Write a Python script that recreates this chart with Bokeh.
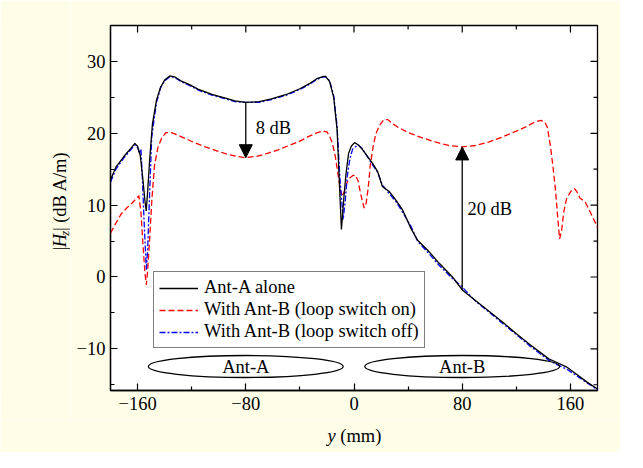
import numpy as np
from bokeh.plotting import figure
from bokeh.layouts import row, column
from bokeh.models import (FixedTicker, Arrow, NormalHead, Label, Legend, LegendItem)
from bokeh.embed import file_html
from bokeh.resources import INLINE

# ---------------- data ----------------
# Ant-A alone
y_alone = [-180, -176, -170, -165, -162, -160, -158, -156, -154.5, -153.6, -152.5, -151,
           -149, -146, -143, -140, -136, -132, -128, -122, -115, -105, -97, -88, -80,
           -70, -61, -50, -40, -33, -27.5, -23, -21, -18, -15, -12.5, -11, -9.3, -7.5,
           -6, -4, -2, 0.4, 3, 6, 10, 13.7, 17.4, 21, 26, 31, 36, 42, 47, 55.6, 63,
           72.8, 80, 90, 100, 110, 120, 130, 144, 150, 157, 165, 172, 180]
hz_alone = [13.5, 15.3, 16.8, 17.9, 18.6, 18.2, 16.9, 13.5, 10.5, 9.2, 12.0, 16.5,
            21.3, 24.6, 26.4, 27.4, 28.0, 27.8, 27.3, 26.8, 26.1, 25.4, 25.0, 24.5, 24.3,
            24.4, 24.8, 25.4, 26.2, 26.9, 27.6, 27.9, 27.9, 27.2, 25.0, 20.5, 14.0, 6.6, 11.0,
            14.2, 17.2, 18.2, 18.7, 18.4, 17.8, 16.8, 15.8, 14.7, 12.6, 11.9, 10.7, 9.3, 6.8, 5.1, 3.5, 1.9,
            0.0, -1.8, -3.3, -4.8, -6.3, -7.9, -9.4, -11.4, -11.9, -12.5, -13.6, -14.6, -15.6]

# With Ant-B (loop switch on)
y_on = [-180, -176, -172, -168, -164, -161, -159, -157.5, -156, -154.5, -153.5, -152.5,
        -151, -149.5, -147.5, -145, -142, -139, -135, -131, -125, -118, -110, -102, -94,
        -87, -80, -72, -64, -56, -48, -40, -33, -27, -23, -20, -18, -16, -14, -12, -10,
        -8.6, -7, -5, -3, -1, 1, 3, 5, 7.5, 9, 10.5, 12, 14, 16, 18.5, 22, 25, 28, 32,
        40, 50, 60, 70, 80, 90, 100, 110, 120, 127, 133, 138, 141, 143, 145, 147, 149,
        150.5, 152, 153.5, 155, 157, 159, 161, 163, 165, 167, 169, 171, 174, 177, 180]
hz_on = [6.1, 7.5, 8.8, 9.6, 10.3, 10.9, 11.3, 9.0, 4.5, 0.5, -1.1, 1.0,
         5.5, 10.5, 15.5, 18.0, 19.4, 20.1, 20.1, 19.8, 19.3, 18.7, 18.1, 17.6, 17.1,
         16.8, 16.6, 16.8, 17.2, 17.7, 18.3, 18.9, 19.6, 20.1, 20.3, 20.2, 19.6, 18.6, 17.0, 14.5, 12.0,
         11.2, 12.0, 13.2, 13.8, 14.1, 14.2, 13.4, 11.5, 9.6, 10.3, 12.4, 15.5, 18.0, 19.8, 21.0, 21.9, 21.9, 21.4, 20.9,
         20.1, 19.4, 18.8, 18.3, 18.1, 18.3, 18.8, 19.5, 20.3, 20.9, 21.5, 21.8, 21.6, 20.8, 18.5, 15.5, 12.0,
         8.5, 5.3, 6.5, 9.0, 10.8, 11.5, 12.1, 12.3, 11.8, 11.0, 10.7, 10.4, 9.3, 8.1, 6.9]

# With Ant-B (loop switch off)
y_off = [-180, -176, -170, -165, -162, -160, -158.5, -157.5, -156.5, -155, -153.5, -152.5,
         -151, -149.5, -146, -143, -140, -136, -132, -128, -122, -115, -105, -97, -88, -80,
         -70, -61, -50, -40, -33, -27.5, -23, -21, -18, -15, -12.5, -10.5, -8, -6.5, -5,
         -3, -1, 3, 6, 10, 13.7, 17.4, 21, 26, 31, 36, 42, 47, 55.6, 63, 72.8, 80, 90,
         100, 110, 120, 130, 144, 150, 157, 165, 172, 180]
hz_off = [13.2, 15.0, 16.6, 17.7, 18.4, 18.0, 17.2, 17.8, 14.0, 7.0, 1.0, 4.0,
          12.0, 19.5, 24.3, 26.3, 27.3, 27.9, 27.7, 27.2, 26.7, 26.0, 25.3, 24.9, 24.4, 24.3,
          24.3, 24.7, 25.3, 26.1, 26.8, 27.5, 27.8, 27.9, 27.3, 25.2, 21.0, 14.0, 8.0, 10.5, 14.0,
          16.5, 17.8, 18.4, 17.9, 16.7, 15.6, 14.6, 12.8, 11.6, 10.5, 9.0, 7.1, 5.0, 3.2, 1.6, -0.2, -1.4, -3.4,
          -4.9, -6.5, -8.0, -9.6, -11.6, -12.2, -12.8, -13.8, -14.7, -15.7]

x_ticks = [-160, -80, 0, 80, 160]
x_minor = [-120, -40, 40, 120]
y_ticks = [-10, 0, 10, 20, 30]
y_minor = [-15, -5, 5, 15, 25]

series_labels = ["Ant-A alone", "With Ant-B (loop switch on)", "With Ant-B (loop switch off)"]
ant_names = ["Ant-A", "Ant-B"]
ant_center = [-80, 80]
ant_length = 144
arrow_at = [-80, 80]
arrow_texts = ["8 dB", "20 dB"]

# ---------------- layout constants (page pixels) ----------------
BG = "#fefde8"
FONT = "Liberation Serif"
FS = "18.5px"
X0, X1, Y0, Y1 = -180, 180, -15.8, 35
LW = 70                     # width of the y-title strip
PW, PH = 550, 420           # main figure
XH = 32                     # height of the x-title strip
ML, MR, MT, MB = 40, 23, 25, 30
fw, fh = PW - ML - MR, PH - MT - MB
sx = fw / (X1 - X0)
sy = fh / (Y1 - Y0)
PAGE_TOP = 8
FRAME_TOP = PAGE_TOP + MT


def dy(py):  # page pixel y -> data y of the main plot
    return Y1 - (py - FRAME_TOP) / sy


p = figure(width=PW, height=PH, x_range=(X0, X1), y_range=(Y0, Y1),
           output_backend="svg", toolbar_location=None,
           min_border_left=ML, min_border_right=MR, min_border_top=MT, min_border_bottom=MB,
           background_fill_color="white", border_fill_color=BG)
p.grid.visible = False
p.outline_line_color = "black"
p.outline_line_width = 1.3

for ax, ticks, minor in ((p.xaxis[0], x_ticks, x_minor), (p.yaxis[0], y_ticks, y_minor)):
    ax.ticker = FixedTicker(ticks=ticks, minor_ticks=minor)
    ax.major_tick_in = 7
    ax.major_tick_out = 0
    ax.minor_tick_in = 4
    ax.minor_tick_out = 0
    ax.axis_line_color = "black"
    ax.axis_line_width = 1.3
    ax.major_tick_line_color = "black"
    ax.minor_tick_line_color = "black"
    ax.major_tick_line_width = 1.2
    ax.minor_tick_line_width = 1.2
    ax.major_label_text_font = FONT
    ax.major_label_text_font_size = FS
    ax.major_label_text_color = "black"
    ax.major_label_overrides = {t: ("\u2212" + str(-t) if t < 0 else str(t)) for t in ticks}
p.xaxis[0].major_label_standoff = 6
p.yaxis[0].major_label_standoff = 5

# mirrored ticks on the top and right edges
for ticks, ln in ((x_ticks, 7), (x_minor, 4)):
    p.segment(x0=ticks, y0=[Y1] * len(ticks), x1=ticks, y1=[Y1 - ln / sy] * len(ticks),
              line_color="black", line_width=1.2)
for ticks, ln in ((y_ticks, 7), (y_minor, 4)):
    p.segment(x0=[X1] * len(ticks), y0=ticks, x1=[X1 - ln / sx] * len(ticks), y1=ticks,
              line_color="black", line_width=1.2)

# curves
r_on = p.line(y_on, hz_on, line_color="#ff0000", line_width=1.3, line_dash="6 3")
r_off = p.line(y_off, hz_off, line_color="#0000ff", line_width=1.3, line_dash="6 2 2 2")
r_alone = p.line(y_alone, hz_alone, line_color="black", line_width=1.3)

legend = Legend(items=[LegendItem(label=series_labels[0], renderers=[r_alone]),
                       LegendItem(label=series_labels[1], renderers=[r_on]),
                       LegendItem(label=series_labels[2], renderers=[r_off])],
                location=(43, 42), label_text_font=FONT, label_text_font_size=FS,
                label_text_color="black", glyph_width=39, glyph_height=20, label_height=20,
                label_standoff=6, spacing=1, padding=5, margin=0,
                border_line_color="black", border_line_width=1.2,
                background_fill_color="white", background_fill_alpha=1.0)
p.add_layout(legend)

# antenna ellipses
ant_y = dy(374)
ant_h = 22 / sy
p.ellipse(x=ant_center, y=[ant_y] * 2, width=ant_length, height=ant_h,
          fill_color=None, line_color="black", line_width=1.3)
for name, cx in zip(ant_names, ant_center):
    p.add_layout(Label(x=cx, y=ant_y, text=name, text_font=FONT, text_font_size=FS,
                       text_align="center", text_baseline="middle", text_color="black"))

# arrows (from Ant-A alone curve to loop-on curve)
for xa, txt, ty in zip(arrow_at, arrow_texts, [dy(135), dy(216)]):
    ys = float(np.interp(xa, y_alone, hz_alone))
    ye = float(np.interp(xa, y_on, hz_on))
    p.add_layout(Arrow(end=NormalHead(size=13, fill_color="black", line_color="black", line_width=1),
                       x_start=xa, y_start=ys, x_end=xa, y_end=ye,
                       line_color="black", line_width=1.3))
    p.add_layout(Label(x=xa + (7.3 if xa < 0 else 3.9), y=ty, text=txt, text_font=FONT,
                       text_font_size=FS, text_baseline="middle", text_color="black"))


# ---------------- title strips ----------------
def strip(width, height):
    f = figure(width=width, height=height, x_range=(0, width), y_range=(0, height),
               output_backend="svg", toolbar_location=None,
               x_axis_type=None, y_axis_type=None,
               min_border=0, min_border_left=0, min_border_right=0,
               min_border_top=0, min_border_bottom=0,
               background_fill_color=BG, border_fill_color=BG, outline_line_color=None)
    f.grid.visible = False
    return f


def put(f, x, y, text, size=FS, italic=False, angle=0.0):
    f.add_layout(Label(x=x, y=y, text=text, text_font=FONT, text_font_size=size,
                       text_font_style="italic" if italic else "normal",
                       angle=angle, text_baseline="alphabetic", text_color="black"))


# y title strip: page x 8..78, page y 8..428  -> data x = px-8, data y = 428-py
ylab = strip(LW, PH)
yb = PAGE_TOP + PH
ang = np.pi / 2
BX = 67.5          # page x of the title baseline
put(ylab, BX - 8, yb - 267, "|", angle=ang)
put(ylab, BX - 8, yb - 263.3, "H", italic=True, angle=ang)
put(ylab, BX + 4 - 8, yb - 249.9, "z", size="13px", italic=True, angle=ang)
put(ylab, BX - 8, yb - 244.6, "| (dB A/m)", angle=ang)

# x title strip: page x 8..628, page y 428..460 -> data x = px-8, data y = 460-py
xlab = strip(LW + PW, XH)
xb = PAGE_TOP + PH + XH
put(xlab, 335 - 8, xb - 443, "y", italic=True)
put(xlab, 347.8 - 8, xb - 443, "(mm)")

layout = column(row(ylab, p, spacing=0), xlab, spacing=0)
open("out.html", "w").write(file_html(layout, INLINE))
